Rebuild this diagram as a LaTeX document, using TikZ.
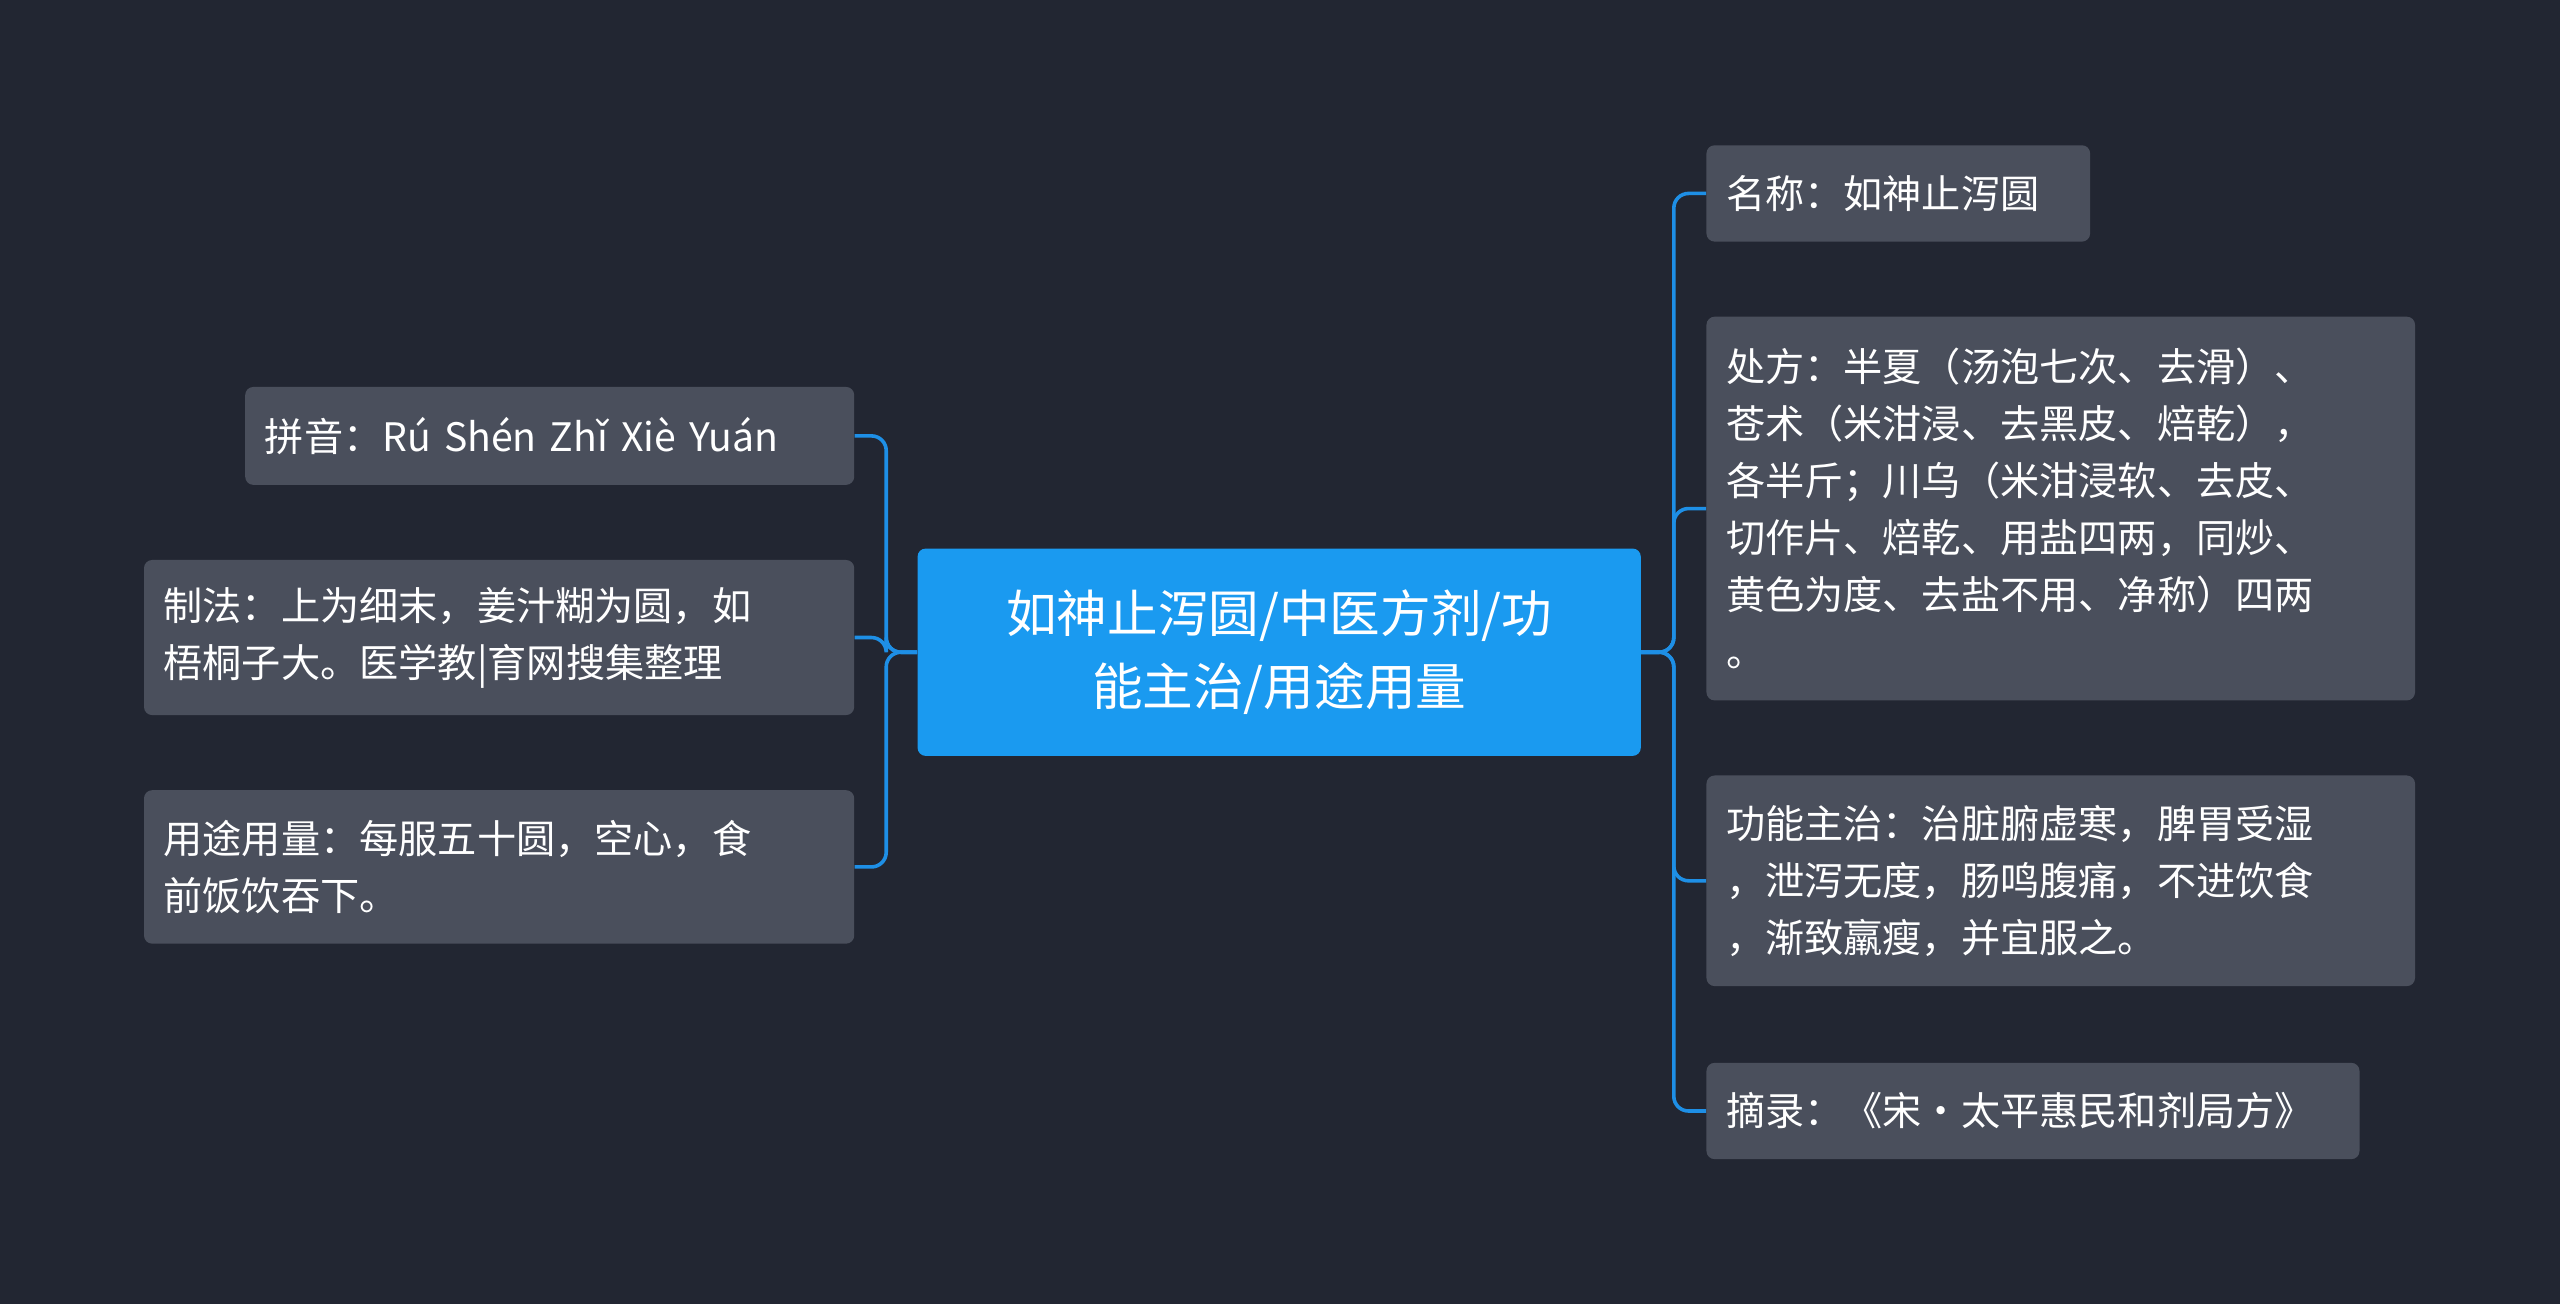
\documentclass[tikz,border=0pt]{standalone}
\usepackage{fontspec}
\newfontfamily\cjk{Noto Sans CJK SC}
\definecolor{bg}{HTML}{222632}
\definecolor{boxc}{HTML}{4A4F5C}
\definecolor{cen}{HTML}{1A9AF0}
\definecolor{conn}{HTML}{1E8FE6}
\begin{document}
\begin{tikzpicture}[x=1pt,y=1pt,
  box/.style={rectangle,rounded corners=5pt,fill=boxc,text=white,font=\cjk\fontsize{24}{35}\selectfont,align=left,inner xsep=12pt,inner ysep=0pt,anchor=west},
  cbox/.style={rectangle,rounded corners=5pt,fill=cen,text=white,font=\cjk\fontsize{31}{45}\selectfont,align=center,inner sep=0pt,minimum width=443pt,minimum height=127pt},
  link/.style={draw=conn,line width=2.2pt,rounded corners=9pt}]
\fill[bg] (0,0) rectangle (1568,799);
\useasboundingbox (0,0) rectangle (1568,799);
\node[cbox] (c) at (783.5,399.5) {如神止泻圆/中医方剂/功\\能主治/用途用量};
\node[box,text width=211pt,minimum height=59pt] (r1) at (1045,680.5) {名称：如神止泻圆};
\node[box,text width=410pt,minimum height=235pt] (r2) at (1045,487.5) {处方：半夏（汤泡七次、去滑）、\\苍术（米泔浸、去黑皮、焙乾），\\各半斤；川乌（米泔浸软、去皮、\\切作片、焙乾、用盐四两，同炒、\\黄色为度、去盐不用、净称）四两\\。};
\node[box,text width=410pt,minimum height=129pt] (r3) at (1045,259.5) {功能主治：治脏腑虚寒，脾胃受湿\\，泄泻无度，肠鸣腹痛，不进饮食\\，渐致羸瘦，并宜服之。};
\node[box,text width=376pt,minimum height=59pt] (r4) at (1045,118.5) {摘录：《宋·太平惠民和剂局方》};
\node[box,text width=349pt,minimum height=60pt] (l1) at (150,532) {拼音：Rú Shén Zhǐ Xiè Yuán};
\node[box,text width=411pt,minimum height=95pt] (l2) at (88,408.5) {制法：上为细末，姜汁糊为圆，如\\梧桐子大。医学教|育网搜集整理};
\node[box,text width=411pt,minimum height=94pt] (l3) at (88,268) {用途用量：每服五十圆，空心，食\\前饭饮吞下。};
\foreach \r in {r1,r2,r3,r4} \draw[link] (c.east) -- ++(20,0) |- (\r.west);
\foreach \l in {l1,l2,l3} \draw[link] (c.west) -- ++(-19,0) |- (\l.east);
\end{tikzpicture}
\end{document}
